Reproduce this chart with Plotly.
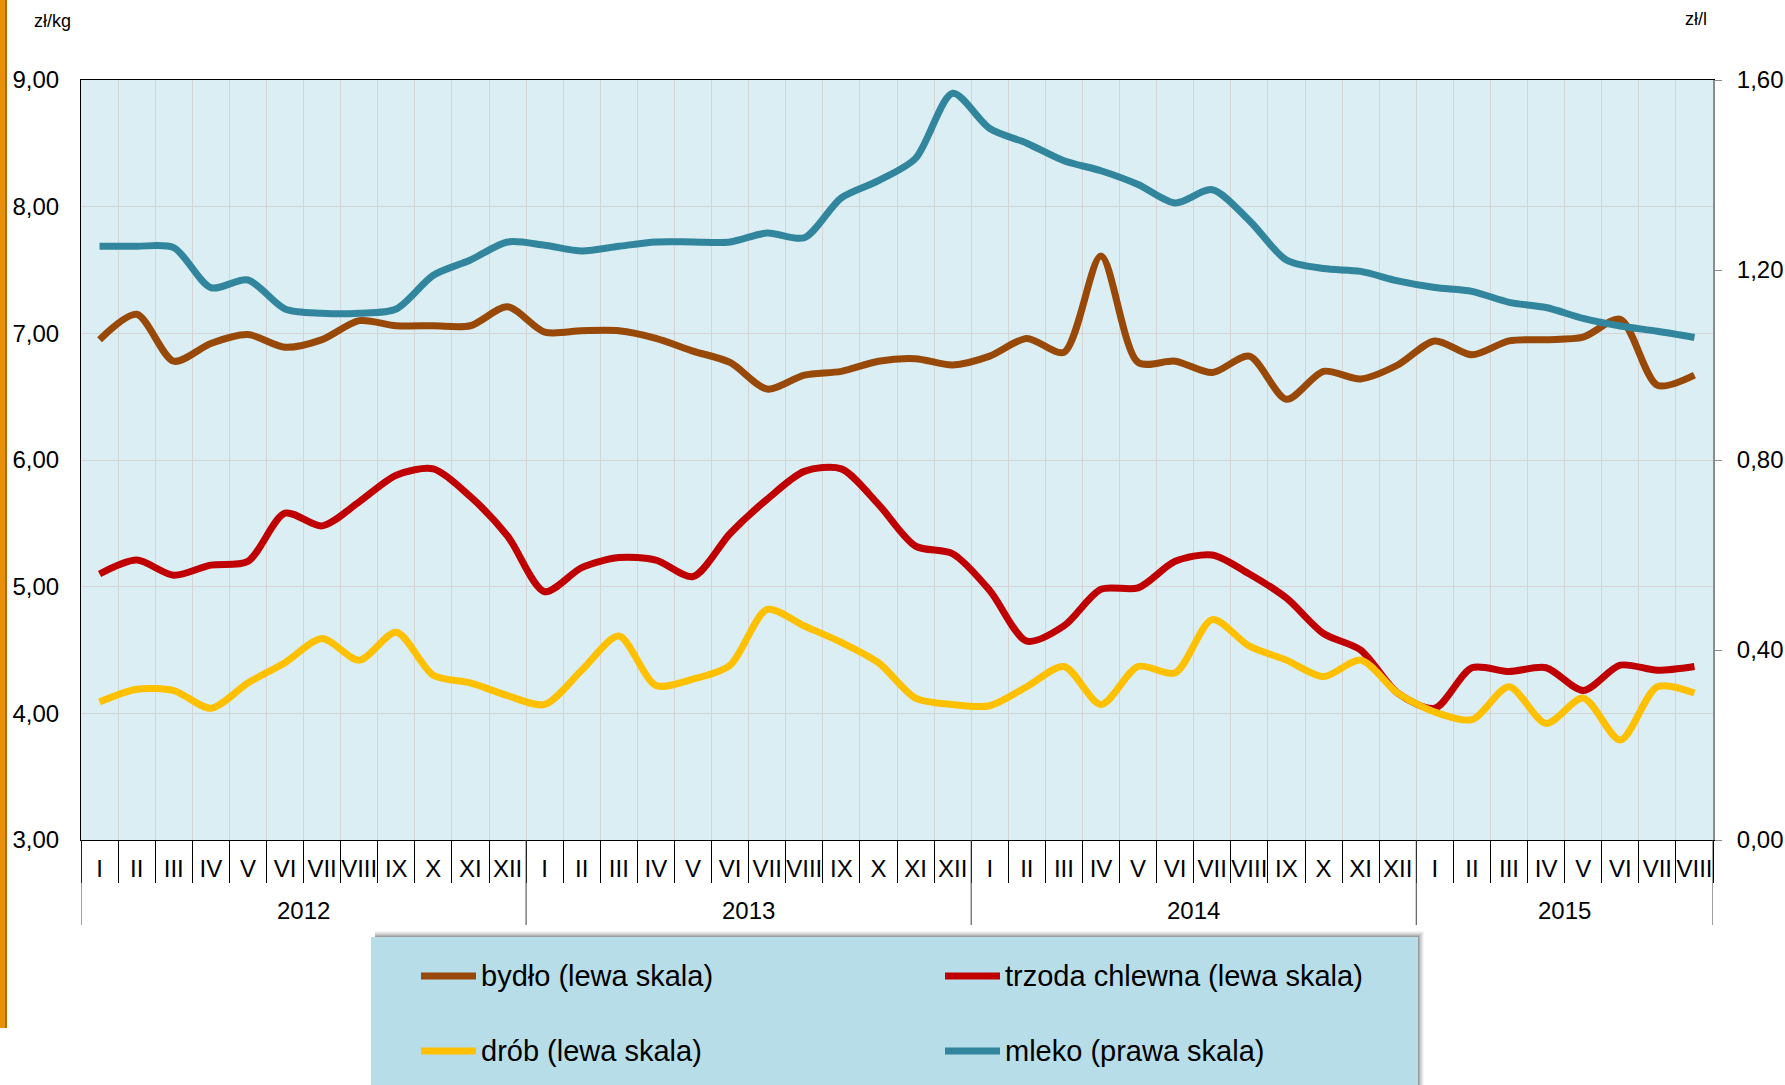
import plotly.graph_objects as go

# ---------------- data ----------------
years = ["2012", "2013", "2014", "2015"]
months_per_year = [12, 12, 12, 8]
roman = ["I", "II", "III", "IV", "V", "VI", "VII", "VIII", "IX", "X", "XI", "XII"]
month_labels = [roman[m] for n in months_per_year for m in range(n)]

bydlo = [6.95, 7.15, 6.78, 6.92, 6.99, 6.89, 6.95, 7.10, 7.06, 7.06, 7.06, 7.21,
         7.01, 7.02, 7.02, 6.96, 6.86, 6.77, 6.56, 6.67, 6.70, 6.78, 6.80, 6.75,
         6.82, 6.96, 6.85, 7.61, 6.77, 6.78, 6.69, 6.82, 6.48, 6.70, 6.64, 6.75,
         6.94, 6.83, 6.94, 6.95, 6.97, 7.11, 6.59, 6.67]
trzoda = [5.10, 5.21, 5.09, 5.17, 5.20, 5.58, 5.48, 5.67, 5.88, 5.93, 5.71, 5.40,
          4.96, 5.15, 5.23, 5.21, 5.08, 5.42, 5.69, 5.91, 5.93, 5.65, 5.32, 5.26,
          4.97, 4.57, 4.69, 4.98, 4.99, 5.20, 5.25, 5.10, 4.91, 4.63, 4.50, 4.16,
          4.04, 4.36, 4.33, 4.36, 4.18, 4.38, 4.34, 4.37]
drob = [4.09, 4.19, 4.18, 4.04, 4.24, 4.40, 4.59, 4.42, 4.64, 4.30, 4.24, 4.14,
        4.07, 4.34, 4.61, 4.22, 4.27, 4.38, 4.82, 4.69, 4.56, 4.40, 4.12, 4.07,
        4.06, 4.21, 4.37, 4.07, 4.37, 4.32, 4.74, 4.53, 4.42, 4.29, 4.42, 4.16,
        4.01, 3.95, 4.21, 3.92, 4.12, 3.79, 4.21, 4.16]
mleko = [1.250, 1.250, 1.247, 1.163, 1.179, 1.118, 1.109, 1.109, 1.118, 1.189, 1.221, 1.259,
         1.252, 1.240, 1.250, 1.259, 1.259, 1.259, 1.278, 1.268, 1.352, 1.388, 1.435, 1.572,
         1.498, 1.467, 1.430, 1.409, 1.380, 1.341, 1.369, 1.304, 1.221, 1.203, 1.197, 1.177,
         1.163, 1.155, 1.132, 1.121, 1.098, 1.082, 1.071, 1.058]

series_names = ["bydło (lewa skala)", "trzoda chlewna (lewa skala)",
                "drób (lewa skala)", "mleko (prawa skala)"]
series_colors = ["#984807", "#C00000", "#FFC000", "#31859C"]

# ---------------- layout constants ----------------
W, H = 1785, 1085
ML, MR, MT, MB = 81, 72, 80, 245
PW, PH = W - ML - MR, H - MT - MB
FONT = "Liberation Sans, Arial, sans-serif"


def px(xp):
    return (xp - ML) / PW


def py(yp):
    return (H - MB - yp) / PH


x = list(range(len(month_labels)))

fig = go.Figure()
data_sets = [(bydlo, "y"), (trzoda, "y"), (drob, "y"), (mleko, "y2")]
for (vals, ax), name, col in zip(data_sets, series_names, series_colors):
    fig.add_trace(go.Scatter(
        x=x, y=vals, name=name, yaxis=ax, mode="lines",
        line=dict(color=col, width=7, shape="spline", smoothing=0.8),
        showlegend=False))

boundaries = [i - 0.5 for i in range(len(month_labels) + 1)]

fig.update_layout(
    width=W, height=H,
    margin=dict(l=ML, r=MR, t=MT, b=MB, autoexpand=False),
    paper_bgcolor="white",
    plot_bgcolor="#DBEEF3",
    separators=", ",
    font=dict(family=FONT, color="black", size=24),
    xaxis=dict(
        range=[-0.5, len(month_labels) - 0.5],
        tickmode="array", tickvals=x, ticktext=month_labels,
        ticks="", showgrid=False, zeroline=False,
        showline=True, linecolor="black", linewidth=1, mirror=True,
        tickfont=dict(size=24, family=FONT),
        ticklabelstandoff=7,
        minor=dict(tickmode="array", tickvals=boundaries, ticks="outside",
                   ticklen=42, tickcolor="black", tickwidth=1,
                   showgrid=True, gridcolor="#D4D4D4", gridwidth=1),
    ),
    yaxis=dict(
        range=[3, 9], dtick=1, tick0=3, tickformat=".2f",
        showgrid=True, gridcolor="#D4D4D4", gridwidth=1, zeroline=False,
        showline=True, linecolor="black", linewidth=1, ticks="",
        tickfont=dict(size=24, family=FONT), ticklabelstandoff=16,
    ),
    yaxis2=dict(
        range=[0, 1.6], dtick=0.4, tick0=0, tickformat=".2f",
        overlaying="y", side="right", showgrid=False, zeroline=False,
        showline=True, linecolor="#8C8C8C", linewidth=2,
        ticks="outside", ticklen=7, tickcolor="#8C8C8C", tickwidth=1,
        tickfont=dict(size=24, family=FONT), ticklabelstandoff=10,
    ),
)

shapes = []
annotations = []

# year separators and labels
start = 0
for yr, n in zip(years, months_per_year):
    annotations.append(dict(x=start + n / 2 - 0.5, y=py(910), xref="x", yref="paper",
                            text=yr, showarrow=False, font=dict(size=24, family=FONT),
                            xanchor="center", yanchor="middle"))
    start += n
cum = 0
for b in [0] + months_per_year:
    cum += b
    shapes.append(dict(type="line", xref="x", yref="paper", x0=cum - 0.5, x1=cum - 0.5,
                       y0=0, y1=py(925), line=dict(color="#404040", width=1)))

# unit labels
annotations.append(dict(x=px(52), y=py(21), xref="paper", yref="paper", text="zł/kg",
                        showarrow=False, font=dict(size=18, family=FONT),
                        xanchor="center", yanchor="middle"))
annotations.append(dict(x=px(1696), y=py(19), xref="paper", yref="paper", text="zł/l",
                        showarrow=False, font=dict(size=18, family=FONT),
                        xanchor="center", yanchor="middle"))

# legend box with shadow
LX0, LX1, LY0, LY1 = 371, 1418, 937, 1085
for k, a in zip(range(6, 0, -1), [0.04, 0.05, 0.06, 0.08, 0.10, 0.12]):
    shapes.append(dict(type="rect", xref="paper", yref="paper",
                       x0=px(LX0 + 4), x1=px(LX1 + k), y0=py(LY1 + 5), y1=py(LY0 - k),
                       line=dict(width=0), fillcolor=f"rgba(0,0,0,{a})", layer="above"))
shapes.append(dict(type="rect", xref="paper", yref="paper",
                   x0=px(LX0), x1=px(LX1), y0=py(LY1 + 5), y1=py(LY0),
                   line=dict(width=0), fillcolor="#B7DDE8", layer="above"))

leg_pos = [(421, 976), (945, 976), (421, 1051), (945, 1051)]
for (lx, ly), name, col in zip(leg_pos, series_names, series_colors):
    shapes.append(dict(type="line", xref="paper", yref="paper",
                       x0=px(lx), x1=px(lx + 55), y0=py(ly), y1=py(ly),
                       line=dict(color=col, width=7), layer="above"))
    annotations.append(dict(x=px(lx + 58), y=py(ly), xref="paper", yref="paper",
                            text=name, showarrow=False, font=dict(size=29, family=FONT),
                            xanchor="left", yanchor="middle"))

# orange decorative bar on the left edge
shapes.append(dict(type="rect", xref="paper", yref="paper",
                   x0=px(0), x1=px(5), y0=py(1028), y1=py(0),
                   line=dict(width=0), fillcolor="#E8900A", layer="above"))
shapes.append(dict(type="rect", xref="paper", yref="paper",
                   x0=px(5), x1=px(7), y0=py(1028), y1=py(0),
                   line=dict(width=0), fillcolor="#B86A00", layer="above"))

fig.update_layout(shapes=shapes, annotations=annotations)

fig.write_html(
    "out.html",
    config={"displayModeBar": False},
    post_script="document.body.style.margin='0px';"
                "document.documentElement.style.overflow='hidden';"
                "document.body.style.overflow='hidden';",
)
